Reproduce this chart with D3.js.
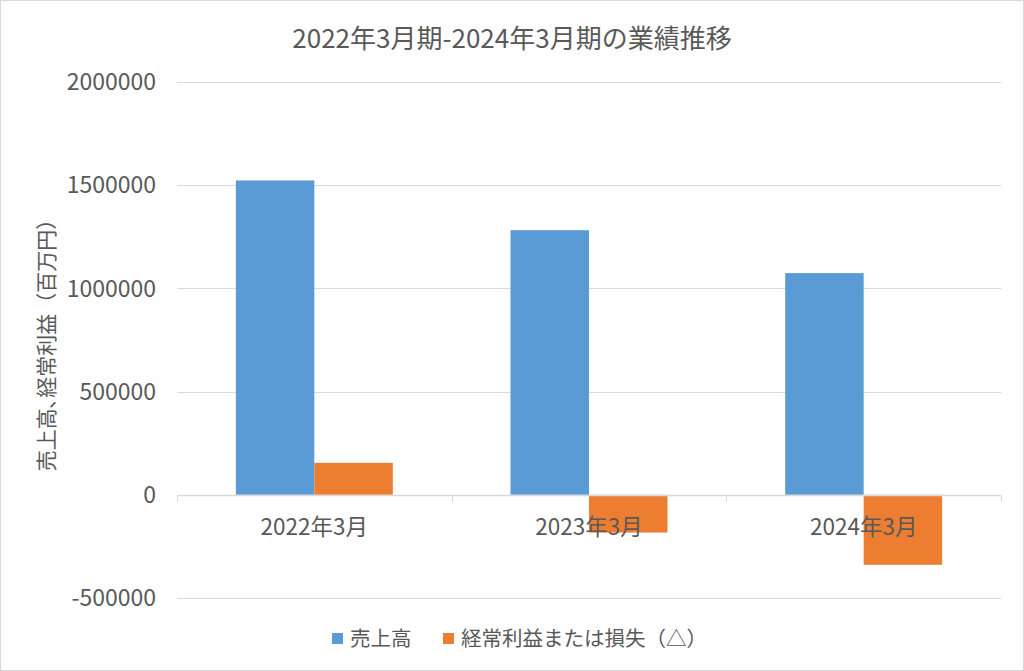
<!DOCTYPE html>
<html>
<head>
<meta charset="utf-8">
<script src="https://cdn.jsdelivr.net/npm/d3@7"></script>
<style>
  body { margin: 0; background: #fff; }
  text { font-family: "Noto Sans CJK JP", "Noto Sans", sans-serif; fill: #595959; }
</style>
</head>
<body>
<svg id="chart" width="1024" height="671"></svg>
<script>
// chart data
const categories = ['2022年3月', '2023年3月', '2024年3月'];
const seriesNames = ['売上高', '経常利益または損失（△）'];
const sales = [1523000, 1282000, 1074000];
const ordinaryProfit = [155000, -183000, -339000];
const yTicks = [-500000, 0, 500000, 1000000, 1500000, 2000000];
const colors = ['#5b9bd5', '#ed7d31'];

let svg = d3.select('#chart'),
  W = 1024,
  H = 671,
  plot = { left: 177, right: 1001, top: 82, bottom: 598 };

svg.append('rect')
  .attr('x', 0.5).attr('y', 0.5)
  .attr('width', W - 1).attr('height', H - 1)
  .attr('fill', '#fff').attr('stroke', '#d9d9d9');

let y = d3.scaleLinear()
  .domain([-500000, 2000000])
  .range([plot.bottom, plot.top]);

let x = d3.scaleBand()
  .domain(categories)
  .range([plot.left, plot.right]);

// gap width 150% => each bar = band / 3.5
let barW = x.bandwidth() / 3.5;
let inner = d3.scaleBand()
  .domain([0, 1])
  .range([0.75 * barW, 2.75 * barW]);

// gridlines
svg.append('g')
  .selectAll('line')
  .data(yTicks.filter(d => d !== 0))
  .enter()
  .append('line')
  .attr('x1', plot.left).attr('x2', plot.right)
  .attr('y1', d => Math.round(y(d)) + 0.5)
  .attr('y2', d => Math.round(y(d)) + 0.5)
  .attr('stroke', '#d9d9d9').attr('stroke-width', 1);

// y tick labels
svg.append('g')
  .selectAll('text')
  .data(yTicks)
  .enter()
  .append('text')
  .attr('x', 156)
  .attr('y', d => y(d))
  .attr('dy', '0.36em')
  .attr('text-anchor', 'end')
  .style('font-size', '23px')
  .text(d => d);

// bars
let rows = categories.map((c, i) => [sales[i], ordinaryProfit[i]]);
let groups = svg.append('g')
  .selectAll('g')
  .data(rows)
  .enter()
  .append('g')
  .attr('transform', (d, i) => `translate(${x(categories[i])},0)`);

groups.selectAll('rect')
  .data(d => d)
  .enter()
  .append('rect')
  .attr('x', (d, j) => inner(j))
  .attr('width', inner.bandwidth())
  .attr('y', d => y(Math.max(0, d)))
  .attr('height', d => Math.abs(y(d) - y(0)))
  .attr('fill', (d, j) => colors[j]);

// zero axis line with category tick marks
let zeroY = Math.round(y(0)) + 0.5;
svg.append('line')
  .attr('x1', plot.left).attr('x2', plot.right)
  .attr('y1', zeroY).attr('y2', zeroY)
  .attr('stroke', '#d9d9d9').attr('stroke-width', 1.3);

let boundaries = categories.map(c => x(c)).concat([plot.right]);
svg.append('g')
  .selectAll('line')
  .data(boundaries)
  .enter()
  .append('line')
  .attr('x1', d => Math.round(d) + 0.5).attr('x2', d => Math.round(d) + 0.5)
  .attr('y1', zeroY).attr('y2', zeroY + 6)
  .attr('stroke', '#d9d9d9');

// category labels
svg.append('g')
  .selectAll('text')
  .data(categories)
  .enter()
  .append('text')
  .attr('x', d => x(d) + x.bandwidth() / 2)
  .attr('y', 535)
  .attr('text-anchor', 'middle')
  .style('font-size', '22.5px')
  .text(d => d);

// title
svg.append('text')
  .attr('x', W / 2)
  .attr('y', 48)
  .attr('text-anchor', 'middle')
  .style('font-size', '26px')
  .text('2022年3月期-2024年3月期の業績推移');

// y axis title
svg.append('text')
  .attr('transform', `translate(54,${(plot.top + plot.bottom) / 2}) rotate(-90)`)
  .attr('text-anchor', 'middle')
  .style('font-size', '21px')
  .text('売上高､経常利益（百万円）');

// legend
let legend = svg.append('g');
let legendItems = [
  { name: seriesNames[0], x: 332 },
  { name: seriesNames[1], x: 443 }
];
legendItems.forEach((it, i) => {
  legend.append('rect')
    .attr('x', it.x).attr('y', 633)
    .attr('width', 11).attr('height', 11)
    .attr('fill', colors[i]);
  legend.append('text')
    .attr('x', it.x + 18)
    .attr('y', 638.5)
    .attr('dy', '0.38em')
    .style('font-size', '20.5px')
    .text(it.name);
});
</script>
</body>
</html>
